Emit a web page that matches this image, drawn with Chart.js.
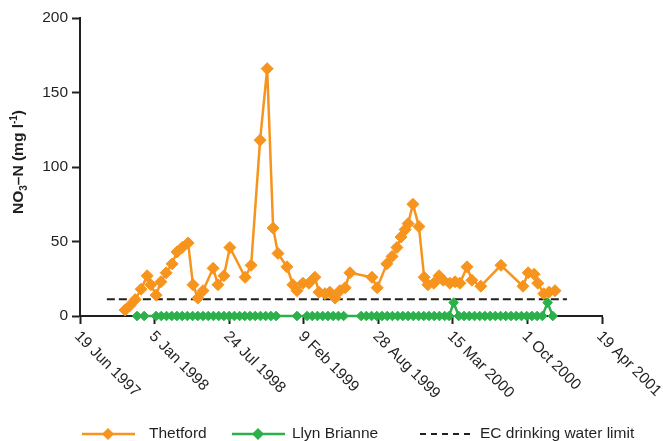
<!DOCTYPE html>
<html>
<head>
<meta charset="utf-8">
<title>Nitrate in groundwater and upland stream</title>
<script src="https://cdn.jsdelivr.net/npm/chart.js@4.4.1/dist/chart.umd.min.js"></script>
<style>
  html, body { margin: 0; padding: 0; background: #ffffff; }
  #wrap { width: 663px; height: 441px; }
</style>
</head>
<body>
<div id="wrap"><canvas id="nitrateChart" width="663" height="441"></canvas></div>
<script>
// Sampling dates are stored as days after 19 Jun 1997.
const thetfordDays = [121, 134, 148, 164, 180, 190, 204, 217, 231, 247, 260, 274, 290, 303, 316, 330,
  357, 370, 386, 402, 443, 459, 483, 502, 518, 531, 555, 571, 582, 598, 614, 630, 641, 657, 670, 684,
  697, 711, 724, 783, 797, 823, 837, 850, 861, 872, 880, 893, 909, 923, 933, 949, 963, 974, 992, 1006,
  1019, 1038, 1051, 1075, 1129, 1188, 1202, 1218, 1228, 1244, 1258, 1274];
const thetfordNO3 = [4, 7, 11, 18, 27, 21, 14, 23, 29, 35, 43, 46, 49, 21, 12, 17,
  32, 21, 27, 46, 26, 34, 118, 166, 59, 42, 33, 21, 17, 22, 22, 26, 16, 15, 16, 12,
  17, 19, 29, 26, 19, 35, 40, 46, 53, 58, 62, 75, 60, 26, 21, 22, 27, 24, 22, 23,
  22, 33, 24, 20, 34, 20, 29, 28, 22, 15, 16, 17];

const brianneDays = [153, 172, 204, 218, 232, 246, 260, 274, 288, 302, 316, 330, 344, 358, 372, 386,
  400, 414, 428, 442, 456, 470, 484, 498, 512, 526, 582, 609, 623, 637, 651, 665, 679, 693, 707,
  754, 768, 782, 796, 810, 824, 838, 852, 866, 880, 894, 908, 922, 936, 950, 964, 978, 990, 1002,
  1016, 1030, 1044, 1058, 1072, 1086, 1100, 1114, 1128, 1142, 1156, 1170, 1184, 1198, 1212, 1226,
  1240, 1254, 1268];
const brianneNO3 = [0, 0, 0, 0, 0, 0, 0, 0, 0, 0, 0, 0, 0, 0, 0, 0,
  0, 0, 0, 0, 0, 0, 0, 0, 0, 0, 0, 0, 0, 0, 0, 0, 0, 0, 0,
  0, 0, 0, 0, 0, 0, 0, 0, 0, 0, 0, 0, 0, 0, 0, 0, 0, 0, 9,
  0, 0, 0, 0, 0, 0, 0, 0, 0, 0, 0, 0, 0, 0, 0, 0,
  0, 9, 0];

// EC drinking water limit for nitrate as N
const limitDays = [72, 1306];
const limitNO3 = [11.3, 11.3];

const tickDays = [0, 200, 400, 600, 800, 1000, 1200, 1400];
const tickLabels = ["19 Jun 1997", "5 Jan 1998", "24 Jul 1998", "9 Feb 1999",
  "28 Aug 1999", "15 Mar 2000", "1 Oct 2000", "19 Apr 2001"];
const seriesNames = ["Thetford", "Llyn Brianne", "EC drinking water limit"];

const INK = "#231f20";
const ORANGE = "#f7941d";
const GREEN = "#2bb04a";
const FAMILY = "'Liberation Sans', Arial, sans-serif";
const FONT_SIZE = 15.5;

const toPoints = (xs, ys) => xs.map((d, i) => ({ x: d, y: ys[i] }));

// rotated date labels hanging down-right from each tick
const dateLabels = {
  id: "dateLabels",
  afterDraw(chart) {
    const { ctx, scales: { x, y } } = chart;
    ctx.save();
    ctx.font = `${FONT_SIZE}px ${FAMILY}`;
    ctx.fillStyle = INK;
    ctx.textAlign = "left";
    ctx.textBaseline = "middle";
    tickDays.forEach((d, i) => {
      ctx.save();
      ctx.translate(x.getPixelForValue(d) - 3, y.bottom + 18);
      ctx.rotate(Math.PI / 4);
      ctx.fillText(tickLabels[i], 0, 0);
      ctx.restore();
    });
    ctx.restore();
  }
};

// y title with subscript / superscript parts
const yTitle = {
  id: "yTitle",
  afterDraw(chart) {
    const { ctx } = chart;
    const big = `bold ${FONT_SIZE}px ${FAMILY}`;
    const small = `bold 10px ${FAMILY}`;
    const parts = [
      { t: "NO", f: big, dy: 0 },
      { t: "3", f: small, dy: 4 },
      { t: "\u2013N (mg l", f: big, dy: 0 },
      { t: "-1", f: small, dy: -6 },
      { t: ")", f: big, dy: 0 }
    ];
    ctx.save();
    ctx.translate(23, 214);
    ctx.rotate(-Math.PI / 2);
    ctx.fillStyle = INK;
    ctx.textBaseline = "alphabetic";
    ctx.textAlign = "left";
    let pos = 0;
    parts.forEach(p => {
      ctx.font = p.f;
      ctx.fillText(p.t, pos, p.dy);
      pos += ctx.measureText(p.t).width;
    });
    ctx.restore();
  }
};

function diamond(ctx, cx, cy, r, color) {
  ctx.beginPath();
  ctx.moveTo(cx, cy - r);
  ctx.lineTo(cx + r, cy);
  ctx.lineTo(cx, cy + r);
  ctx.lineTo(cx - r, cy);
  ctx.closePath();
  ctx.fillStyle = color;
  ctx.fill();
}

// legend row under the date labels
const bottomLegend = {
  id: "bottomLegend",
  afterDraw(chart) {
    const { ctx } = chart;
    const yy = 434;
    ctx.save();
    ctx.lineWidth = 2.5;
    ctx.strokeStyle = ORANGE;
    ctx.beginPath(); ctx.moveTo(82, yy); ctx.lineTo(135, yy); ctx.stroke();
    diamond(ctx, 108, yy, 6, ORANGE);
    ctx.strokeStyle = GREEN;
    ctx.beginPath(); ctx.moveTo(232, yy); ctx.lineTo(285, yy); ctx.stroke();
    diamond(ctx, 258, yy, 6, GREEN);
    ctx.strokeStyle = INK;
    ctx.lineWidth = 2;
    ctx.setLineDash([6, 5]);
    ctx.beginPath(); ctx.moveTo(420, yy); ctx.lineTo(472, yy); ctx.stroke();
    ctx.setLineDash([]);
    ctx.font = `${FONT_SIZE}px ${FAMILY}`;
    ctx.fillStyle = INK;
    ctx.textBaseline = "middle";
    ctx.fillText(seriesNames[0], 149, yy);
    ctx.fillText(seriesNames[1], 292, yy);
    ctx.fillText(seriesNames[2], 480, yy);
    ctx.restore();
  }
};

new Chart(document.getElementById("nitrateChart"), {
  type: "line",
  data: {
    datasets: [
      {
        label: seriesNames[0],
        data: toPoints(thetfordDays, thetfordNO3),
        borderColor: ORANGE,
        backgroundColor: ORANGE,
        borderWidth: 2.5,
        pointStyle: "rectRot",
        pointRadius: 6,
        pointBorderWidth: 1,
        tension: 0,
        clip: false
      },
      {
        label: seriesNames[1],
        data: toPoints(brianneDays, brianneNO3),
        borderColor: GREEN,
        backgroundColor: GREEN,
        borderWidth: 2.5,
        pointStyle: "rectRot",
        pointRadius: 4.8,
        pointBorderWidth: 1,
        tension: 0,
        clip: false
      },
      {
        label: seriesNames[2],
        data: toPoints(limitDays, limitNO3),
        borderColor: INK,
        borderWidth: 2,
        borderDash: [8, 4],
        pointRadius: 0,
        tension: 0
      }
    ]
  },
  options: {
    responsive: false,
    animation: false,
    layout: { padding: { top: 18, right: 61, left: 0, bottom: 0 } },
    plugins: {
      legend: { display: false },
      tooltip: { enabled: false }
    },
    scales: {
      x: {
        type: "linear",
        min: 0,
        max: 1400,
        ticks: { stepSize: 200, display: false },
        grid: { drawOnChartArea: false, tickLength: 8, tickWidth: 2, tickColor: INK },
        border: { color: INK, width: 2 },
        afterFit(scale) { scale.height = 125; }
      },
      y: {
        min: 0,
        max: 200,
        ticks: {
          stepSize: 50,
          padding: 4,
          color: INK,
          font: { family: FAMILY, size: FONT_SIZE }
        },
        grid: { drawOnChartArea: false, tickLength: 8, tickWidth: 2, tickColor: INK },
        border: { color: INK, width: 2 },
        afterFit(scale) { scale.width = 80; }
      }
    }
  },
  plugins: [dateLabels, yTitle, bottomLegend]
});
</script>
</body>
</html>
